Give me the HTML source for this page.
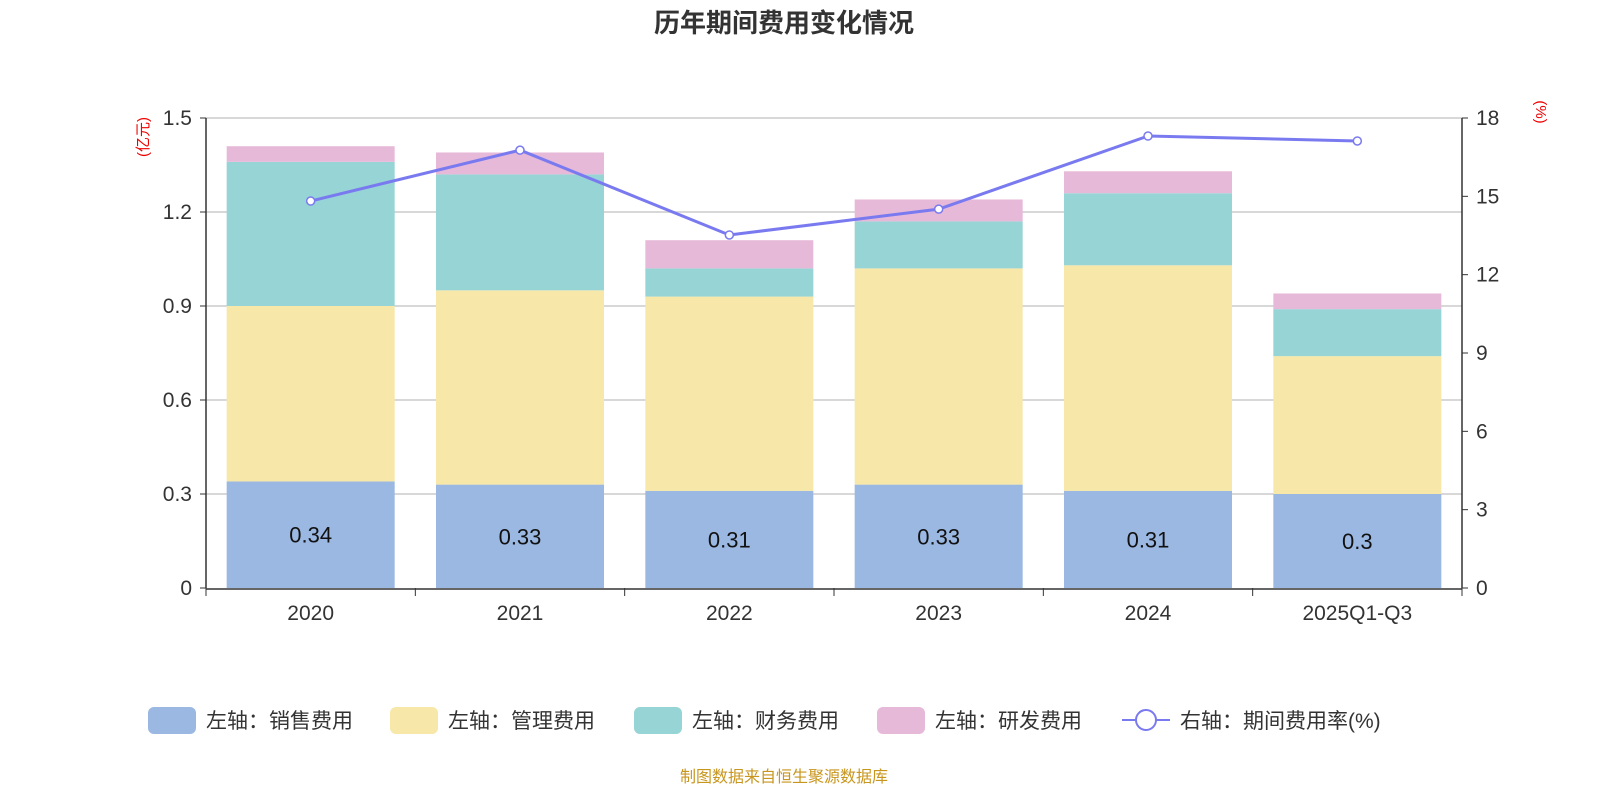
<!DOCTYPE html>
<html><head><meta charset="utf-8"><style>
body{margin:0;background:#fff;font-family:"Liberation Sans","Noto Sans CJK SC",sans-serif;}
svg text{font-family:"Liberation Sans","Noto Sans CJK SC",sans-serif;}
</style></head><body>
<svg id="c" width="1600" height="800" xmlns="http://www.w3.org/2000/svg">
<text x="784" y="32" text-anchor="middle" font-size="26" font-weight="bold" fill="#333">历年期间费用变化情况</text>
<text x="784" y="782" text-anchor="middle" font-size="16" fill="#c8961e">制图数据来自恒生聚源数据库</text>
<g id="grid"></g><g id="bars"></g><g id="line"></g><g id="axes"></g><g id="legend"></g>
</svg>
<script>
const categories=["2020","2021","2022","2023","2024","2025Q1-Q3"];
const sales=[0.34,0.33,0.31,0.33,0.31,0.30];
const salesLabels=["0.34","0.33","0.31","0.33","0.31","0.3"];
const mgmt=[0.56,0.62,0.62,0.69,0.72,0.44];
const finance=[0.46,0.37,0.09,0.15,0.23,0.15];
const rd=[0.05,0.07,0.09,0.07,0.07,0.05];
const rate=[14.82,16.77,13.52,14.51,17.31,17.12];
const leftTicks=["0","0.3","0.6","0.9","1.2","1.5"];
const rightTicks=["0","3","6","9","12","15","18"];
const NS="http://www.w3.org/2000/svg";
const X0=206,X1=1462,Y0=588,Y1=118;
const band=(X1-X0)/categories.length;
const xc=i=>X0+band*(i+0.5);
const yl=v=>Y0-(v/1.5)*(Y0-Y1);
const yr=v=>Y0-(v/18)*(Y0-Y1);
function mk(tag,attrs,parent,text){const e=document.createElementNS(NS,tag);for(const k in attrs)e.setAttribute(k,attrs[k]);if(text!==undefined)e.textContent=text;document.getElementById(parent).appendChild(e);return e;}
leftTicks.forEach((t,i)=>{const v=parseFloat(t);const y=yl(v);
 if(v>0){const g=mk('line',{x1:X0,x2:X1,y1:y,y2:y,stroke:'#ccc','stroke-width':1.5},'grid');}
 const l=mk('text',{x:X0-14,y:y+7,'text-anchor':'end','font-size':21,fill:'#333'},'axes',t);
 mk('line',{x1:X0-6,x2:X0,y1:y,y2:y,stroke:'#333'},'axes');});
rightTicks.forEach(t=>{const y=yr(parseFloat(t));
 const l=mk('text',{x:X1+14,y:y+7,'font-size':21,fill:'#333'},'axes',t);
 mk('line',{x1:X1,x2:X1+6,y1:y,y2:y,stroke:'#333'},'axes');});
mk('line',{x1:X0,x2:X0,y1:Y1,y2:Y0,stroke:'#333','stroke-width':1.5},'axes');
mk('line',{x1:X1,x2:X1,y1:Y1,y2:Y0,stroke:'#333','stroke-width':1.5},'axes');
mk('line',{x1:X0,x2:X1,y1:Y0+1,y2:Y0+1,stroke:'#333','stroke-width':1.5},'axes');
for(let i=0;i<=categories.length;i++){const x=X0+band*i;mk('line',{x1:x,x2:x,y1:Y0,y2:Y0+8,stroke:'#333'},'axes');}
let a=mk('text',{x:153,y:142,'font-size':15,fill:'#e00','text-anchor':'middle',transform:'rotate(-90 148 142)'},'axes','(亿元)');
a=mk('text',{x:1536,y:112,'font-size':15,fill:'#e00','text-anchor':'middle',transform:'rotate(90 1536 112)'},'axes','(%)');
const series=[[sales,'#9bb8e2','sales'],[mgmt,'#f7e7a8','mgmt'],[finance,'#97d4d5','finance'],[rd,'#e7b9d8','rd']];
const bw=168;
categories.forEach((c,i)=>{let acc=0;
 series.forEach(([arr,col,nm])=>{const y0=yl(acc),y1=yl(acc+arr[i]);acc+=arr[i];
  const r=mk('rect',{x:xc(i)-bw/2,y:y1,width:bw,height:y0-y1,fill:col},'bars');});
 const t=mk('text',{x:xc(i),y:(yl(0)+yl(sales[i]))/2+8,'text-anchor':'middle','font-size':22,fill:'#111'},'bars',salesLabels[i]);
 const xl=mk('text',{x:xc(i),y:620,'text-anchor':'middle','font-size':21,fill:'#333'},'axes',c);});
const p=mk('polyline',{points:rate.map((v,i)=>xc(i)+','+yr(v)).join(' '),fill:'none',stroke:'#7a7af0','stroke-width':3},'line');
rate.forEach((v,i)=>{const d=mk('circle',{cx:xc(i),cy:yr(v),r:4,fill:'#fff',stroke:'#7a7af0','stroke-width':1.5},'line');});
const legend=[['左轴：销售费用','#9bb8e2',148],['左轴：管理费用','#f7e7a8',390],['左轴：财务费用','#97d4d5',634],['左轴：研发费用','#e7b9d8',877]];
legend.forEach(([t,col,x])=>{const r=mk('rect',{x:x,y:707,width:48,height:27,rx:6,fill:col},'legend');
 const l=mk('text',{x:x+58,y:728,'font-size':21,fill:'#333'},'legend',t);});
mk('line',{x1:1122,x2:1170,y1:720,y2:720,stroke:'#7a7af0','stroke-width':2},'legend');
const lc=mk('circle',{cx:1146,cy:720,r:10,fill:'#fff',stroke:'#7a7af0','stroke-width':2},'legend');
const lt=mk('text',{x:1180,y:728,'font-size':21,fill:'#333'},'legend','右轴：期间费用率(%)');
</script>
</body></html>
